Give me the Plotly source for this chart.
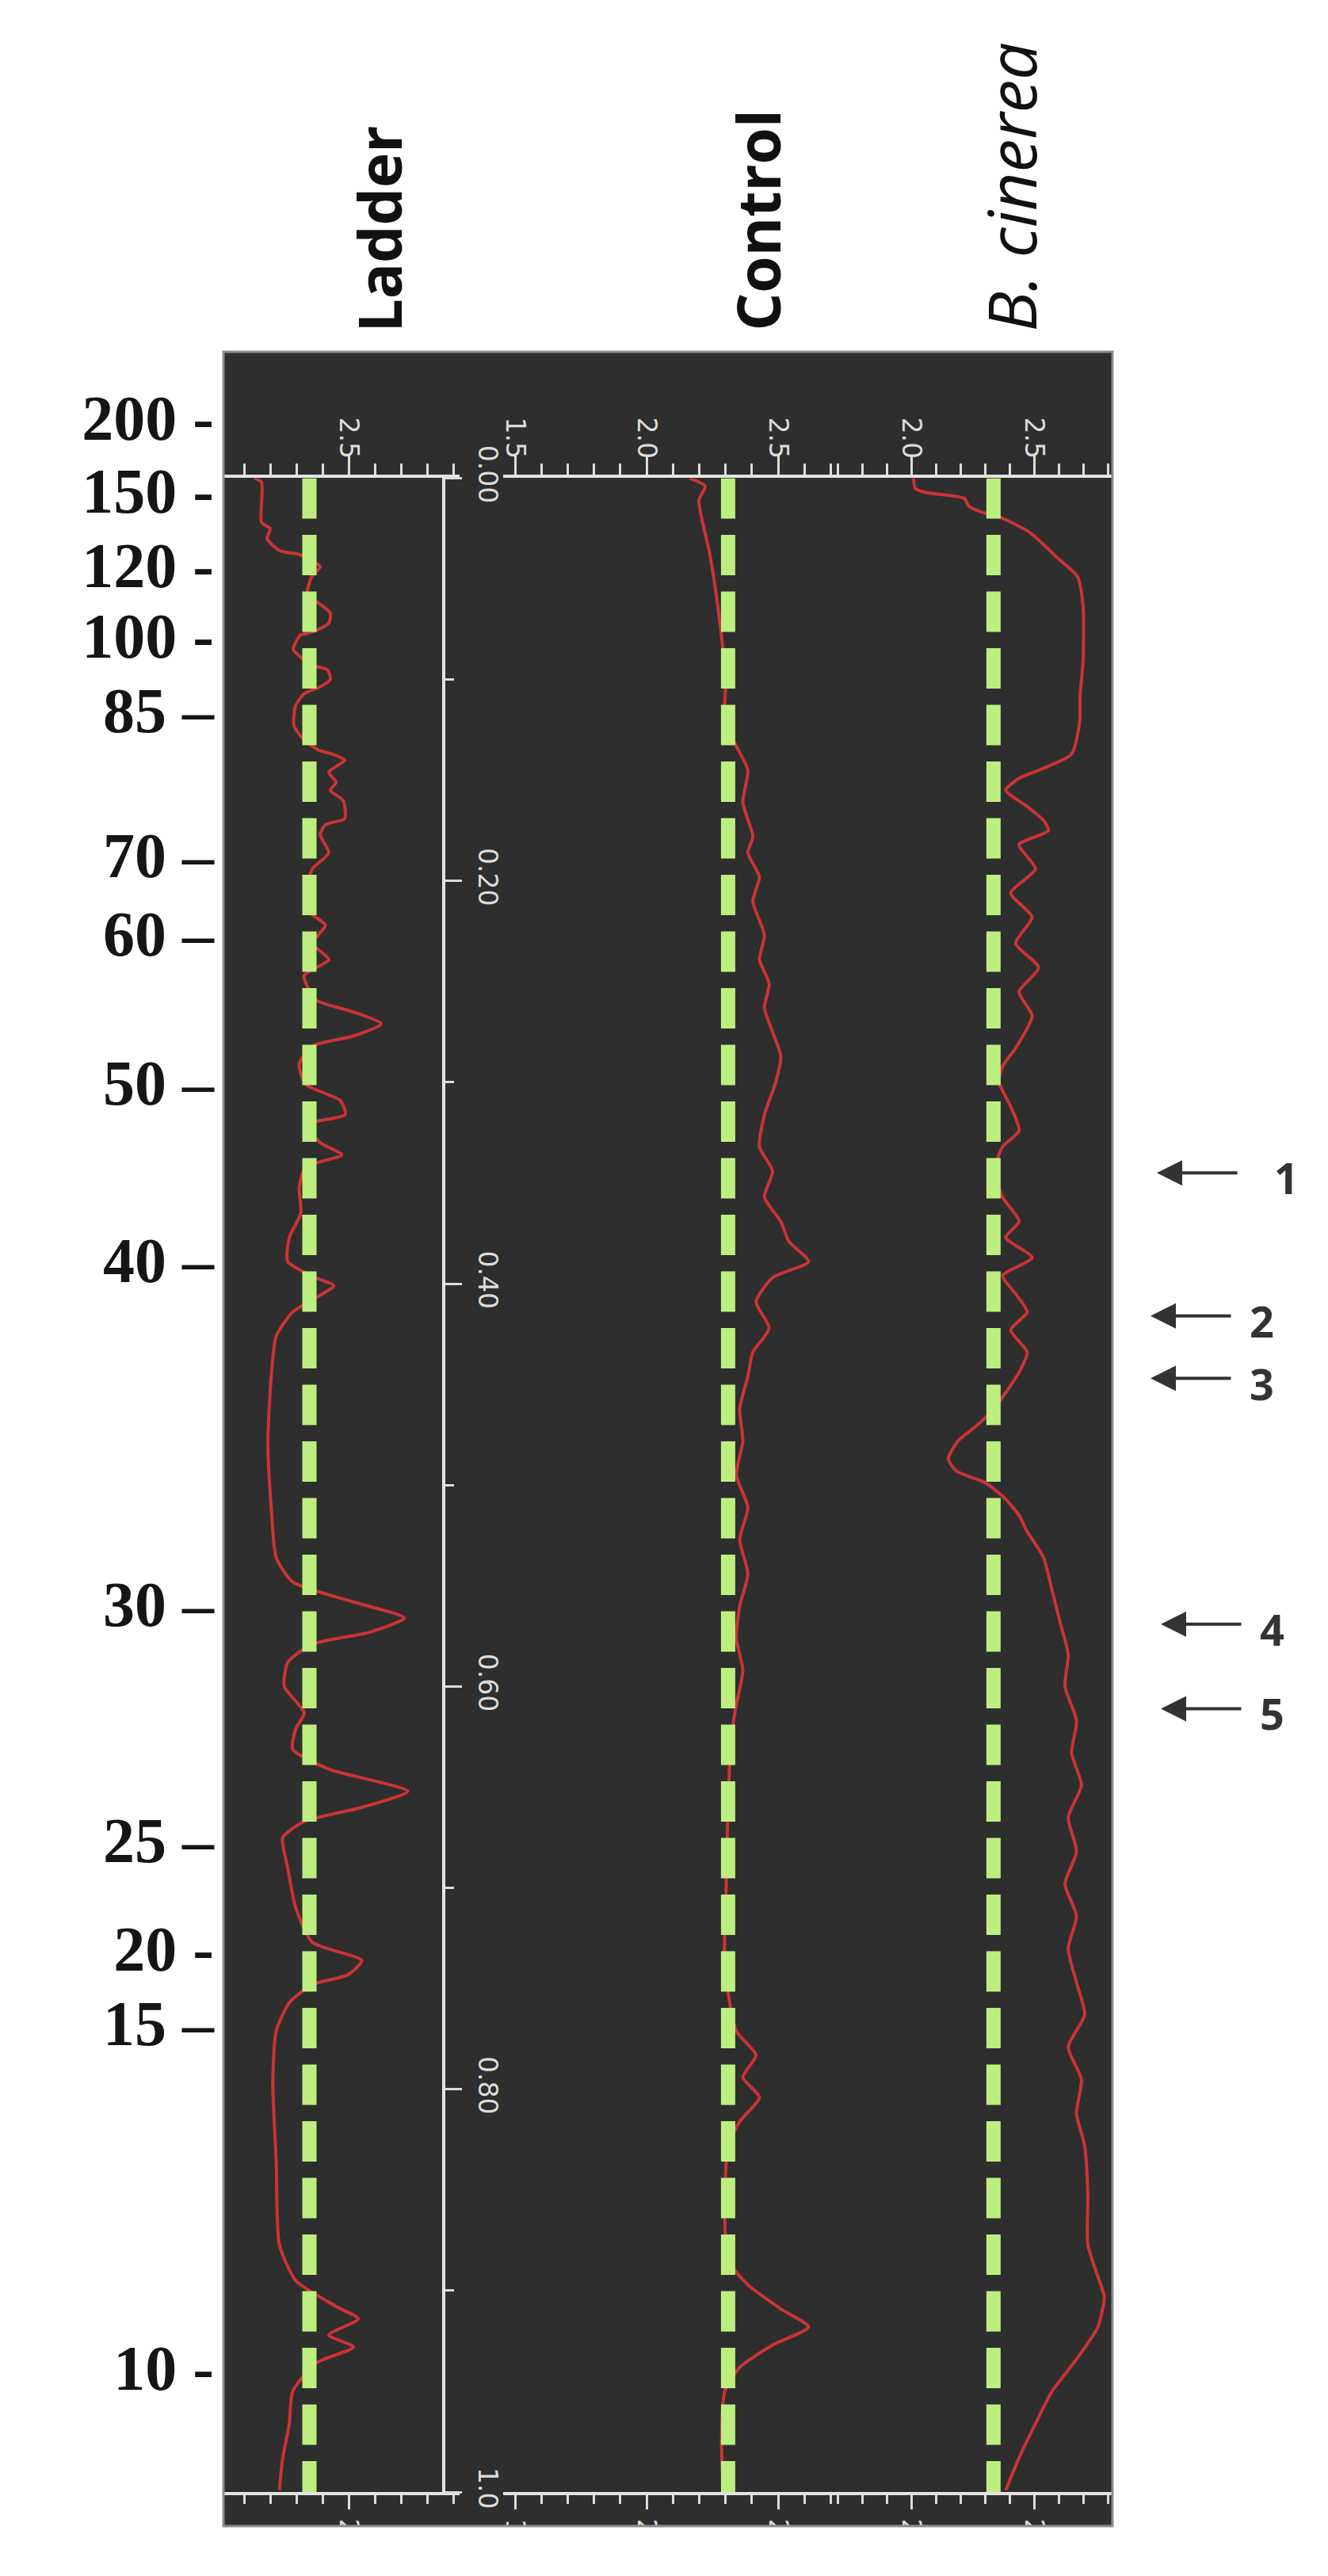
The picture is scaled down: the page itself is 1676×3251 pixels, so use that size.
import plotly.graph_objects as go

# Densitometry profiles of three gel lanes.
# Rf = relative migration (0 = top of the resolving gel, 1 = bottom),
# od = lane intensity on each lane's own scale.

lane_names = ["Ladder", "Control", "B. cinerea"]

ladder_rf = [0.000, 0.002, 0.022, 0.025, 0.030, 0.036, 0.038, 0.041, 0.044, 0.049,
             0.058, 0.062, 0.067, 0.072, 0.076, 0.078, 0.085, 0.088, 0.093, 0.095,
             0.100, 0.104, 0.107, 0.113, 0.123, 0.130, 0.135, 0.137, 0.140, 0.146,
             0.151, 0.155, 0.160, 0.169, 0.172, 0.177, 0.186, 0.194, 0.202, 0.214,
             0.222, 0.231, 0.239, 0.247, 0.259, 0.265, 0.271, 0.277, 0.282, 0.291,
             0.301, 0.309, 0.316, 0.321, 0.330, 0.336, 0.342, 0.352, 0.365, 0.377,
             0.389, 0.397, 0.401, 0.407, 0.414, 0.426, 0.446, 0.479, 0.511, 0.536,
             0.548, 0.558, 0.566, 0.573, 0.579, 0.588, 0.600, 0.613, 0.621, 0.631,
             0.641, 0.652, 0.660, 0.667, 0.675, 0.690, 0.710, 0.727, 0.736, 0.743,
             0.748, 0.757, 0.771, 0.796, 0.836, 0.877, 0.895, 0.908, 0.914, 0.922,
             0.928, 0.936, 0.950, 0.966, 0.983, 0.999]
ladder_od = [2.139, 2.167, 2.167, 2.200, 2.188, 2.236, 2.315, 2.358, 2.391, 2.358,
             2.342, 2.385, 2.430, 2.424, 2.370, 2.315, 2.288, 2.309, 2.358, 2.418,
             2.430, 2.385, 2.330, 2.297, 2.291, 2.330, 2.385, 2.439, 2.485, 2.424,
             2.452, 2.430, 2.479, 2.485, 2.412, 2.391, 2.424, 2.361, 2.342, 2.336,
             2.411, 2.361, 2.424, 2.330, 2.374, 2.518, 2.625, 2.518, 2.361, 2.311,
             2.336, 2.468, 2.487, 2.336, 2.392, 2.474, 2.336, 2.311, 2.317, 2.273,
             2.267, 2.374, 2.443, 2.374, 2.286, 2.223, 2.204, 2.191, 2.204, 2.223,
             2.286, 2.518, 2.713, 2.581, 2.361, 2.267, 2.254, 2.330, 2.298, 2.286,
             2.424, 2.726, 2.550, 2.330, 2.248, 2.267, 2.298, 2.361, 2.550, 2.499,
             2.361, 2.273, 2.223, 2.210, 2.223, 2.235, 2.298, 2.455, 2.537, 2.424,
             2.518, 2.374, 2.286, 2.273, 2.248, 2.235]

control_rf = [0.000, 0.004, 0.011, 0.038, 0.070, 0.100, 0.121, 0.133, 0.145, 0.161,
              0.178, 0.186, 0.198, 0.210, 0.227, 0.239, 0.251, 0.263, 0.275, 0.287,
              0.300, 0.316, 0.332, 0.344, 0.357, 0.369, 0.379, 0.389, 0.397, 0.409,
              0.422, 0.434, 0.446, 0.462, 0.478, 0.495, 0.511, 0.527, 0.544, 0.560,
              0.576, 0.592, 0.609, 0.625, 0.657, 0.698, 0.739, 0.771, 0.783, 0.794,
              0.804, 0.816, 0.828, 0.861, 0.885, 0.897, 0.909, 0.918, 0.927, 0.938,
              0.950, 0.974, 0.999]
control_od = [2.163, 2.223, 2.199, 2.241, 2.277, 2.301, 2.297, 2.341, 2.385, 2.366,
              2.404, 2.385, 2.429, 2.404, 2.448, 2.429, 2.466, 2.448, 2.479, 2.510,
              2.491, 2.448, 2.429, 2.479, 2.448, 2.510, 2.541, 2.616, 2.479, 2.416,
              2.466, 2.404, 2.385, 2.354, 2.366, 2.341, 2.385, 2.354, 2.385, 2.354,
              2.341, 2.366, 2.341, 2.322, 2.310, 2.303, 2.297, 2.341, 2.416, 2.366,
              2.429, 2.354, 2.310, 2.297, 2.310, 2.385, 2.510, 2.616, 2.479, 2.354,
              2.297, 2.285, 2.291]

cinerea_rf = [0.000, 0.005, 0.007, 0.010, 0.014, 0.017, 0.019, 0.027, 0.039, 0.049,
              0.064, 0.090, 0.109, 0.121, 0.137, 0.144, 0.149, 0.155, 0.163, 0.170,
              0.175, 0.182, 0.194, 0.206, 0.218, 0.231, 0.243, 0.255, 0.267, 0.283,
              0.292, 0.300, 0.312, 0.324, 0.332, 0.344, 0.357, 0.369, 0.377, 0.387,
              0.396, 0.405, 0.414, 0.423, 0.434, 0.444, 0.454, 0.462, 0.470, 0.478,
              0.487, 0.493, 0.499, 0.507, 0.515, 0.523, 0.536, 0.552, 0.568, 0.584,
              0.600, 0.617, 0.633, 0.649, 0.665, 0.682, 0.698, 0.714, 0.730, 0.747,
              0.763, 0.779, 0.795, 0.812, 0.828, 0.852, 0.877, 0.893, 0.903, 0.918,
              0.934, 0.950, 0.966, 0.983, 0.999]
cinerea_od = [2.010, 2.016, 2.055, 2.216, 2.235, 2.290, 2.355, 2.484, 2.590, 2.677,
              2.700, 2.700, 2.687, 2.686, 2.653, 2.539, 2.439, 2.385, 2.472, 2.539,
              2.559, 2.439, 2.506, 2.405, 2.492, 2.425, 2.519, 2.439, 2.492, 2.425,
              2.372, 2.358, 2.405, 2.439, 2.372, 2.338, 2.372, 2.439, 2.385, 2.492,
              2.372, 2.425, 2.472, 2.405, 2.472, 2.439, 2.385, 2.338, 2.271, 2.191,
              2.151, 2.184, 2.305, 2.385, 2.439, 2.472, 2.539, 2.573, 2.606, 2.639,
              2.626, 2.673, 2.653, 2.693, 2.639, 2.673, 2.626, 2.673, 2.639, 2.673,
              2.706, 2.639, 2.693, 2.673, 2.706, 2.719, 2.719, 2.760, 2.786, 2.760,
              2.673, 2.573, 2.506, 2.439, 2.385]

# green background (baseline) level drawn in each lane
baseline_od = [2.35, 2.31, 2.335]

# molecular weight markers (kDa) against Rf
mw_rf = [-0.030, 0.006, 0.043, 0.078, 0.115, 0.187, 0.226, 0.300, 0.388,
         0.559, 0.676, 0.730, 0.767, 0.938]
mw_labels = ["200 -", "150 -", "120 -", "100 -", "85 –", "70 –", "60 –", "50 –",
             "40 –", "30 –", "25 –", "20 -", "15 –", "10 -"]

rf_ticks = [0.0, 0.2, 0.4, 0.6, 0.8, 1.0]
rf_ticktext = ["0.00", "0.20", "0.40", "0.60", "0.80", "1.0"]
rf_minor = [0.1, 0.3, 0.5, 0.7, 0.9]

# bands marked with arrows
arrow_rf = [0.345, 0.416, 0.447, 0.569, 0.611]
arrow_labels = ["1", "2", "3", "4", "5"]

# ---- layout geometry (pixels of the 1676 x 3251 page) ----
W, H = 1676, 3251
OFF = 8                                 # default body margin of the html page
FIG_W, FIG_H = W - 2 * OFF, H - 2 * OFF
PL, PR, PT, PB = 282, 1404, 444, 3197   # dark panel, page pixels
AX_T, AX_B = 604, 3154                  # rows of Rf 0 and Rf 1
RF_AXIS_X = 560


def fx(px):
    return (px - PL) / (PR - PL)


def fy(py):
    return (PB - py) / (PB - PT)


rf_per_px = 1.0 / (AX_B - AX_T)
rf_panel_top = (PT - AX_T) * rf_per_px
rf_panel_bot = 1 + (PB - AX_B) * rf_per_px

# per lane: pixel span of its axis, and (pixel, value, pixels per unit) to scale it
lane_px = [(282, 580), (635, 1054), (1054, 1404)]
lane_ref = [(440, 2.5, 330), (650, 1.5, 332), (1150, 2.0, 310)]

# arrow geometry
arrow_head_px = [1460, 1452, 1452, 1465, 1465]
arrow_tail_px = [1563, 1555, 1555, 1568, 1568]
arrow_text_px = [1641, 1610, 1610, 1623, 1623]

RED = "#cc3434"
GREEN = "#bdef80"
TICK = "#dcdcdc"
PANEL = "#2e2e2e"
tick_font = dict(family="DejaVu Sans", size=33, color=TICK)

fig = go.Figure()

profiles = [(ladder_od, ladder_rf), (control_od, control_rf), (cinerea_od, cinerea_rf)]
for i, (od, rf) in enumerate(profiles):
    xa = "x" if i == 0 else f"x{i + 1}"
    fig.add_trace(go.Scatter(
        x=od, y=rf, mode="lines", xaxis=xa, yaxis="y",
        line=dict(color=RED, width=4, shape="spline", smoothing=0.6),
        name=lane_names[i], hoverinfo="skip"
    ))

for i, b in enumerate(baseline_od):
    xa = "x" if i == 0 else f"x{i + 1}"
    fig.add_trace(go.Scatter(
        x=[b, b], y=[0, 1], mode="lines", xaxis=xa, yaxis="y",
        line=dict(color=GREEN, width=18, dash="51px,20.5px"),
        hoverinfo="skip"
    ))

# empty traces so the extra axes get drawn
fig.add_trace(go.Scatter(x=[None], y=[None], xaxis="x", yaxis="y2", hoverinfo="skip"))
for i in range(3):
    fig.add_trace(go.Scatter(x=[None], y=[None], xaxis=f"x{i + 4}", yaxis="y", hoverinfo="skip"))

layout_axes = {}
for i in range(3):
    p0, p1 = lane_px[i]
    rpx, rval, ppu = lane_ref[i]
    rng = [rval + (p0 - rpx) / ppu, rval + (p1 - rpx) / ppu]
    common = dict(
        domain=[fx(p0), fx(p1)], range=rng, anchor="y",
        tickmode="linear", tick0=0, dtick=0.5, tickformat=".1f",
        ticks="outside", tickwidth=3, tickcolor=TICK,
        tickangle=90, tickfont=tick_font,
        showline=True, linecolor="#e4e4e4", linewidth=4,
        showgrid=False, zeroline=False, fixedrange=True,
    )
    top = dict(common, side="top", ticklen=25, ticklabelstandoff=-16,
               minor=dict(tick0=0, dtick=0.1, ticks="outside", ticklen=14,
                          tickwidth=3, tickcolor=TICK, showgrid=False))
    bottom = dict(common, side="bottom", ticklen=18, ticklabelstandoff=5,
                  overlaying="x" if i == 0 else f"x{i + 1}",
                  minor=dict(tick0=0, dtick=0.1, ticks="outside", ticklen=11,
                             tickwidth=3, tickcolor=TICK, showgrid=False))
    layout_axes["xaxis" if i == 0 else f"xaxis{i + 1}"] = top
    layout_axes[f"xaxis{i + 4}"] = bottom

fig.update_layout(
    **layout_axes,
    yaxis=dict(
        domain=[fy(AX_B), fy(AX_T)], range=[1, 0],
        anchor="free", position=fx(RF_AXIS_X), side="right",
        showline=True, linecolor="#e4e4e4", linewidth=4,
        tickmode="array", tickvals=rf_ticks, ticktext=rf_ticktext,
        ticks="outside", ticklen=21, tickwidth=3, tickcolor=TICK,
        minor=dict(tickmode="array", tickvals=rf_minor, ticks="outside",
                   ticklen=11, tickwidth=3, tickcolor=TICK, showgrid=False),
        tickangle=90, tickfont=tick_font, ticklabelstandoff=8,
        showgrid=False, zeroline=False, fixedrange=True,
    ),
    yaxis2=dict(
        domain=[0, 1], range=[rf_panel_bot, rf_panel_top],
        anchor="free", position=0, side="left",
        tickmode="array", tickvals=mw_rf, ticktext=mw_labels,
        ticks="", showline=False, showgrid=False, zeroline=False,
        tickfont=dict(family="Liberation Serif", size=80, color="#151515", weight="bold"),
        ticklabelstandoff=12, fixedrange=True,
    ),
    width=FIG_W, height=FIG_H, autosize=False,
    margin=dict(l=PL - OFF, r=FIG_W - (PR - OFF), t=PT - OFF, b=FIG_H - (PB - OFF), pad=0),
    paper_bgcolor="white", plot_bgcolor="rgba(0,0,0,0)",
    showlegend=False,
)

# dark panel behind everything
fig.add_shape(type="rect", xref="paper", yref="paper", x0=0, x1=1, y0=0, y1=1,
              fillcolor=PANEL, line=dict(width=0), layer="below")

# lane titles, rotated
title_pos = [(478, 422), (956, 420), (1276, 421)]
title_text = ["<b>Ladder</b>", "<b>Control</b>", "<i>B. cinerea</i>"]
title_size = [75, 75, 84]
for (px, py), txt, sz in zip(title_pos, title_text, title_size):
    fig.add_annotation(
        x=fx(px), y=fy(py), xref="paper", yref="paper",
        xanchor="center", yanchor="bottom", text=txt, textangle=-90,
        showarrow=False, font=dict(family="Open Sans", size=sz, color="#111111")
    )

# arrows pointing at bands
for rf, lab, hx, tx, lx in zip(arrow_rf, arrow_labels, arrow_head_px, arrow_tail_px, arrow_text_px):
    fig.add_annotation(
        x=fx(hx), y=rf, xref="paper", yref="y", text="",
        showarrow=True, ax=tx - hx, ay=0, arrowhead=2, arrowsize=1.6,
        arrowwidth=4, arrowcolor="#333333"
    )
    fig.add_annotation(
        x=fx(lx), y=rf, xref="paper", yref="y", text=f"<b>{lab}</b>",
        showarrow=False, yshift=-6, font=dict(family="Open Sans", size=54, color="#333333")
    )

# white below the panel to crop the lower tick labels, then the panel frame
fig.add_shape(type="rect", xref="paper", yref="paper", x0=-0.1, x1=1.1, y0=fy(H + 20), y1=0,
              fillcolor="white", line=dict(width=0), layer="above")
fig.add_shape(type="rect", xref="paper", yref="paper", x0=0, x1=1, y0=0, y1=1,
              line=dict(color="#8c8c8c", width=3), layer="above")

fig.write_html("out.html")
